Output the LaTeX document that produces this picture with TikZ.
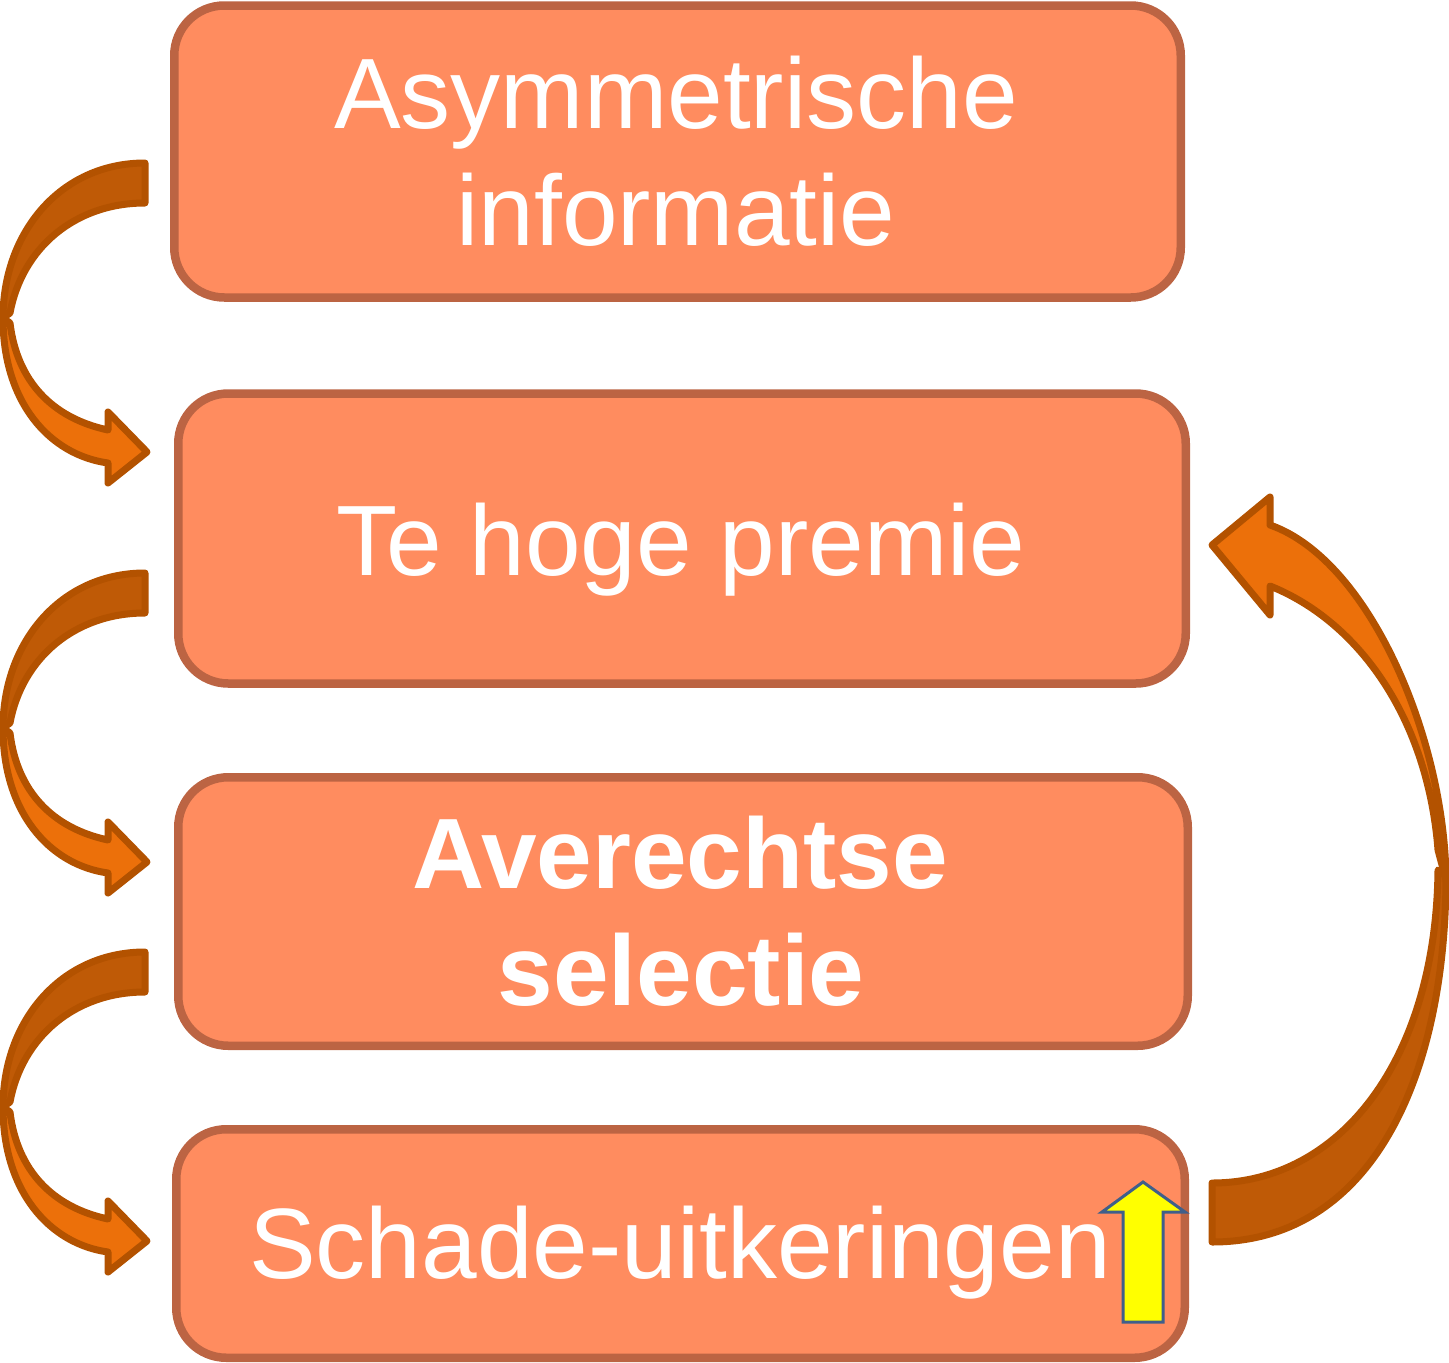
\documentclass[tikz,border=0pt]{standalone}
\usepackage{fontspec}
\setmainfont{Liberation Sans}
\definecolor{boxfill}{HTML}{FF8C5F}
\definecolor{boxline}{HTML}{BC6443}
\definecolor{arrdark}{HTML}{BF5A06}
\definecolor{arrlight}{HTML}{EC700A}
\definecolor{arrline}{HTML}{B35200}
\definecolor{upfill}{HTML}{FFFF00}
\definecolor{upline}{HTML}{3F5F8A}
\tikzset{
  box/.style={draw=boxline, fill=boxfill, line width=8.5pt, rounded corners=50pt,
    rectangle, inner sep=0pt, outer sep=0pt},
  lbl/.style={text=white, anchor=base, inner sep=0pt, font=\fontsize{100}{117}\selectfont},
  blbl/.style={lbl, font=\fontsize{100}{117}\selectfont\bfseries},
  darkface/.style={draw=arrline, fill=arrdark, line width=7pt, line join=round},
  lightface/.style={draw=arrline, fill=arrlight, line width=7pt, line join=round},
}
\newcommand\curvedleft[1]{%
  \begin{scope}[shift={(0,#1)}]
    \path[darkface] (145,0) .. controls (60,0) and (3,70) .. (3,155)
      -- (10,150) .. controls (22,85) and (75,40) .. (145,40) -- cycle;
    \path[lightface] (3,155) .. controls (3,240) and (50,292) .. (108,300)
      -- (108,320) -- (147,289) -- (108,249) -- (108,267)
      .. controls (52,255) and (17,218) .. (10,160) -- cycle;
  \end{scope}}
\begin{document}
\begin{tikzpicture}[x=1pt, y=-1pt]
  \useasboundingbox (0,0) rectangle (1449,1363);
  % boxes
  \node[box, minimum width=1006.5pt, minimum height=292pt] (b1) at (677.5,151.5) {};
  \node[box, minimum width=1007.5pt, minimum height=290pt] (b2) at (682,538.5) {};
  \node[box, minimum width=1009.5pt, minimum height=268.5pt] (b3) at (683,911.5) {};
  \node[box, minimum width=1008.5pt, minimum height=228.5pt] (b4) at (680.5,1243.5) {};
  % texts
  \node[lbl] (t1a) at (676,128) {Asymmetrische};
  \node[lbl] (t1b) at (676,245) {informatie};
  \node[lbl] (t2) at (681,575) {Te hoge premie};
  \node[blbl] (t3a) at (680.5,888) {Averechtse};
  \node[blbl] (t3b) at (681,1005) {selectie};
  \node[lbl] (t4) at (680,1278) {Schade-uitkeringen};
  % left curved arrows
  \curvedleft{163}
  \curvedleft{573}
  \curvedleft{952}
  % right curved arrow (back to b2)
  \path[darkface] (1212,1242) .. controls (1370,1242) and (1446,1080) .. (1446,875)
    -- (1438,870) .. controls (1436,1060) and (1340,1183) .. (1212,1183) -- cycle;
  \path[lightface] (1446,880) .. controls (1445,740) and (1370,560) .. (1270,525)
    -- (1270,497) -- (1212,545) -- (1270,615) -- (1270,586)
    .. controls (1360,622) and (1428,720) .. (1438,850) -- cycle;
  % yellow up arrow
  \path[draw=upline, fill=upfill, line width=3pt, line join=miter]
    (1143,1182) -- (1185,1212) -- (1163,1212) -- (1163,1322) -- (1123,1322)
    -- (1123,1212) -- (1102,1212) -- cycle;
\end{tikzpicture}
\end{document}
